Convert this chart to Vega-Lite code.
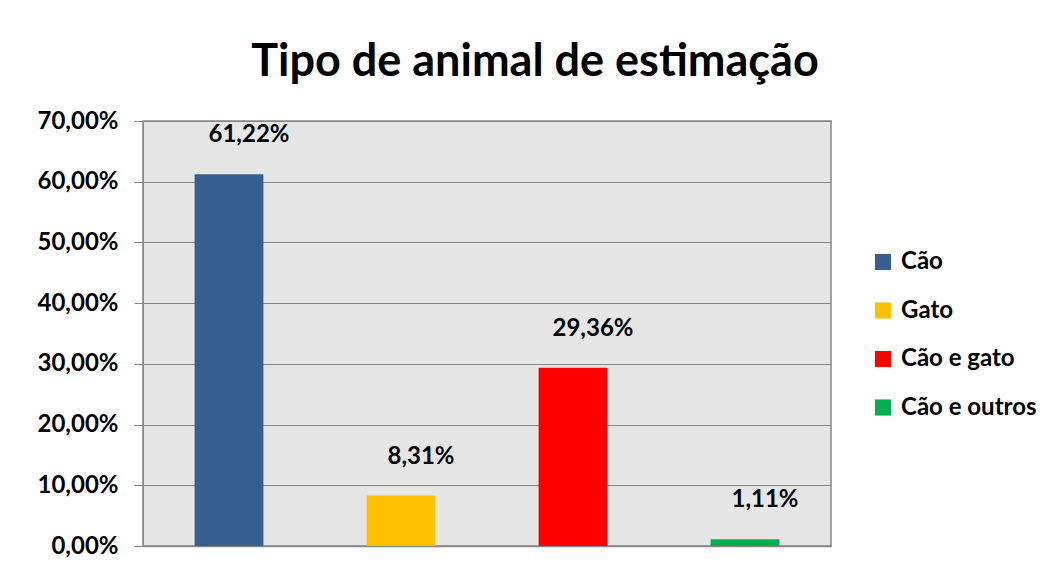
{
  "$schema": "https://vega.github.io/schema/vega-lite/v6.json",
  "width": 688,
  "height": 425,
  "autosize": {"type": "none"},
  "padding": {"left": 143, "top": 121, "right": 221, "bottom": 24},
  "background": "white",
  "title": {
    "text": "Tipo de animal de estimação",
    "font": "Lato",
    "fontSize": 45,
    "fontWeight": "bold",
    "color": "#000000",
    "anchor": "middle",
    "dx": 48,
    "offset": 24
  },
  "data": {
    "values": [
      {"tipo": "Cão", "valor": 0.6122},
      {"tipo": "Gato", "valor": 0.0831},
      {"tipo": "Cão e gato", "valor": 0.2936},
      {"tipo": "Cão e outros", "valor": 0.0111}
    ]
  },
  "encoding": {
    "x": {
      "field": "tipo",
      "type": "nominal",
      "sort": null,
      "scale": {"paddingInner": 0.6, "paddingOuter": 0.3},
      "axis": {"labels": false, "ticks": false, "title": null, "domainColor": "#868686", "domainWidth": 1.5}
    },
    "y": {
      "field": "valor",
      "type": "quantitative",
      "scale": {"domain": [0, 0.7], "nice": false},
      "axis": {
        "format": ".2%",
        "values": [0, 0.1, 0.2, 0.3, 0.4, 0.5, 0.6, 0.7],
        "title": null,
        "labelFont": "Lato",
        "labelFontSize": 24,
        "labelFontWeight": "bold",
        "labelColor": "#000000",
        "labelPadding": 16,
        "tickSize": 9,
        "tickColor": "#868686",
        "domainColor": "#868686",
        "gridColor": "#868686",
        "gridWidth": 1,
        "grid": true
      }
    }
  },
  "layer": [
    {
      "mark": {"type": "bar"},
      "encoding": {
        "color": {
          "field": "tipo",
          "type": "nominal",
          "sort": null,
          "scale": {
            "domain": ["Cão", "Gato", "Cão e gato", "Cão e outros"],
            "range": ["#365E8F", "#FFC000", "#FF0000", "#00B050"]
          },
          "legend": {
            "title": null,
            "orient": "none",
            "legendX": 728,
            "legendY": 129,
            "symbolType": "square",
            "symbolSize": 260,
            "symbolStrokeWidth": 0,
            "labelFont": "Lato",
            "labelFontSize": 24,
            "labelFontWeight": "bold",
            "labelColor": "#000000",
            "rowPadding": 24.5,
            "labelOffset": 6
          }
        }
      }
    },
    {
      "mark": {
        "type": "text",
        "font": "Lato",
        "fontSize": 24,
        "fontWeight": "bold",
        "color": "#000000",
        "baseline": "middle",
        "dy": -39,
        "dx": 20
      },
      "encoding": {
        "text": {"field": "valor", "type": "quantitative", "format": ".2%"}
      }
    }
  ],
  "config": {
    "locale": {
      "number": {"decimal": ",", "thousands": ".", "grouping": [3], "currency": ["", " €"]}
    },
    "view": {"fill": "#E6E6E6", "stroke": "#868686", "strokeWidth": 1.5},
    "axis": {"gridColor": "#868686"}
  }
}
